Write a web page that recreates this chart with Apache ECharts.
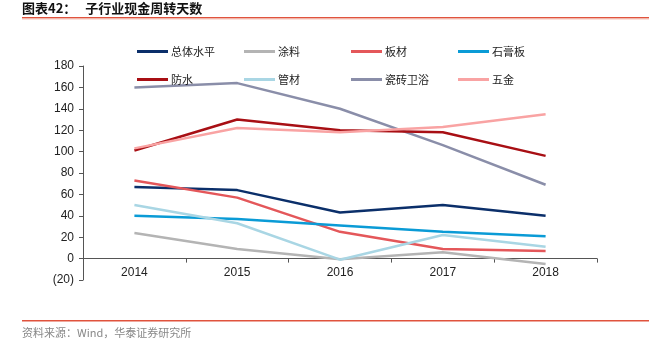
<!DOCTYPE html>
<html>
<head>
<meta charset="utf-8">
<script src="https://cdn.jsdelivr.net/npm/echarts@6/dist/echarts.min.js"></script>
<style>
  html, body { margin: 0; padding: 0; background: #fff; }
  #main { width: 656px; height: 344px; }
</style>
</head>
<body>
<div id="main"></div>
<script>
// 年份
var years = ["2014", "2015", "2016", "2017", "2018"];
// 各子行业现金周转天数
var zongti = [67, 64, 43, 50, 40];
var tuliao = [24, 9, -0.5, 6, -5];
var bancai = [73, 57, 25, 9, 7];
var shigaoban = [40, 37, 31, 25, 21];
var fangshui = [101, 130, 120, 118, 96];
var guancai = [50, 33, -1, 22, 11];
var cizhuan = [160, 164, 140, 106, 69];
var wujin = [103, 122, 118, 123, 135];

var names = ["总体水平", "涂料", "板材", "石膏板", "防水", "管材", "瓷砖卫浴", "五金"];
var values = [zongti, tuliao, bancai, shigaoban, fangshui, guancai, cizhuan, wujin];
var colors = ["#0b2f6a", "#b4b4b4", "#e4575a", "#0a9bd6", "#a80f14", "#a9d6e4", "#8a8ea9", "#f9a3a3"];

var font = "'Noto Sans CJK SC', sans-serif";

var series = [];
var legends = [];
names.forEach(function (n, i) {
  series.push({
    name: n,
    type: "line",
    data: values[i],
    symbol: "none",
    z: i === 6 ? 1 : 2,
    lineStyle: { width: 2.5, color: colors[i] },
    itemStyle: { color: colors[i] },
  });
  // 每个图例单独放，两行四列
  legends.push({
    data: [n],
    left: 132 + (i % 4) * 107,
    top: i < 4 ? 41 : 69,
    icon: "rect",
    itemWidth: 31,
    itemHeight: 3,
    itemGap: 0,
    textStyle: { fontFamily: font, fontSize: 11, color: "#222", padding: [0, 0, 0, -2] },
  });
});

var myChart = echarts.init(document.getElementById("main"));
myChart.setOption({
  animation: false,
  textStyle: { fontFamily: "'Liberation Sans', Arial, sans-serif" },
  graphic: [
    {
      type: "text",
      left: 22,
      top: 2,
      style: {
        text: "图表42：   子行业现金周转天数",
        font: "bold 13px 'Noto Sans CJK SC', sans-serif",
        fill: "#111",
      },
    },
    { type: "rect", shape: { x: 22, y: 17, width: 627, height: 1.5 }, style: { fill: "#e0533d" } },
    { type: "rect", shape: { x: 22, y: 18.5, width: 627, height: 1 }, style: { fill: "#f6c3b8" } },
    { type: "rect", shape: { x: 22, y: 320, width: 627, height: 1.5 }, style: { fill: "#e0533d" } },
    {
      type: "text",
      left: 22,
      top: 327,
      style: {
        text: "资料来源：Wind，华泰证券研究所",
        font: "11px 'Noto Sans CJK SC', sans-serif",
        fill: "#888",
      },
    },
  ],
  legend: legends,
  grid: { left: 83, right: 59, top: 66, bottom: 64 },
  xAxis: {
    type: "category",
    data: years,
    boundaryGap: true,
    offset: -21.4,
    axisLine: { onZero: false, lineStyle: { color: "#555", width: 1 } },
    axisTick: { show: true, length: 4, lineStyle: { color: "#555" } },
    axisLabel: { fontSize: 12, color: "#222", margin: 8 },
  },
  yAxis: {
    type: "value",
    min: -20,
    max: 180,
    interval: 20,
    splitLine: { show: false },
    axisLine: { show: true, lineStyle: { color: "#555", width: 1 } },
    axisTick: { show: true, length: 4, lineStyle: { color: "#555" } },
    axisLabel: {
      fontSize: 12,
      color: "#222",
      margin: 9,
      formatter: function (v) {
        return v < 0 ? "(" + Math.abs(v) + ")" : v;
      },
    },
  },
  series: series,
});
</script>
</body>
</html>
